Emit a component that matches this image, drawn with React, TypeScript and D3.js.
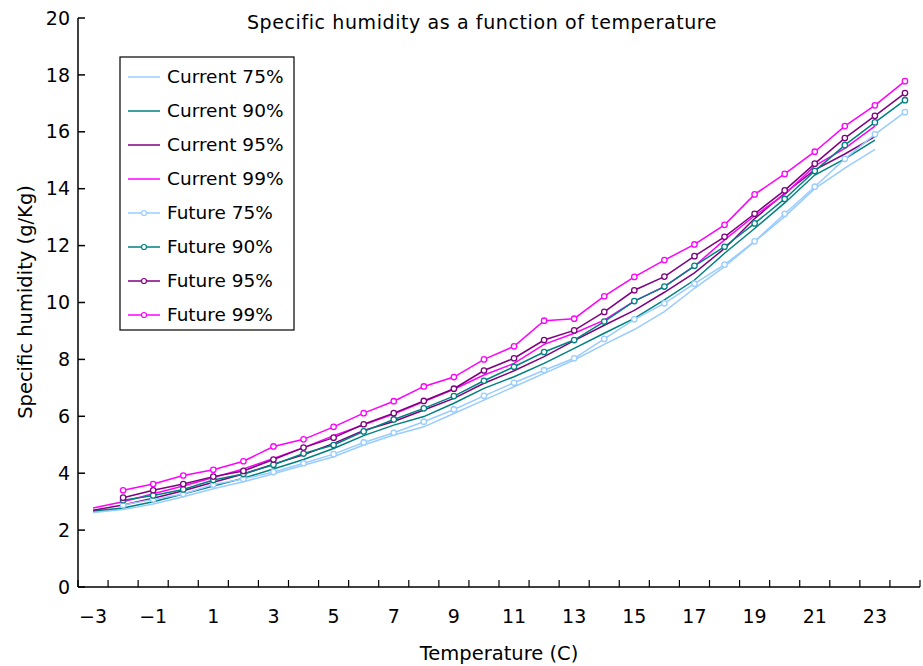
import React from "react";
import * as d3 from "d3";

// Temperature categories (°C)
const temps = [-3, -2, -1, 0, 1, 2, 3, 4, 5, 6, 7, 8, 9, 10, 11, 12, 13, 14, 15, 16, 17, 18, 19, 20, 21, 22, 23, 24];
const tickTemps = [-3, -1, 1, 3, 5, 7, 9, 11, 13, 15, 17, 19, 21, 23];
const yTicks = [0, 2, 4, 6, 8, 10, 12, 14, 16, 18, 20];

// Current climate: -3 .. 23
const current75 = [2.62, 2.72, 2.92, 3.17, 3.45, 3.7, 3.98, 4.28, 4.58, 4.99, 5.34, 5.63, 6.1, 6.57, 7.04, 7.51, 7.98, 8.53, 9.05, 9.68, 10.5, 11.26, 12.14, 13.02, 14.0, 14.72, 15.38];
const current90 = [2.67, 2.78, 3.0, 3.27, 3.55, 3.82, 4.15, 4.48, 4.87, 5.32, 5.69, 5.99, 6.46, 6.98, 7.39, 7.86, 8.39, 8.92, 9.44, 10.09, 10.79, 11.73, 12.6, 13.5, 14.48, 15.05, 15.71];
const current95 = [2.7, 2.88, 3.12, 3.38, 3.68, 3.97, 4.32, 4.65, 5.05, 5.5, 5.82, 6.22, 6.63, 7.16, 7.6, 8.1, 8.66, 9.2, 9.72, 10.36, 11.04, 11.9, 12.95, 13.84, 14.66, 15.22, 15.83];
const current99 = [2.78, 3.0, 3.28, 3.55, 3.85, 4.15, 4.52, 4.9, 5.32, 5.7, 6.08, 6.52, 6.95, 7.45, 7.86, 8.53, 8.92, 9.38, 10.05, 10.56, 11.28, 12.2, 13.05, 13.8, 14.8, 15.42, 16.2];

// Future climate: -2 .. 24
const future75 = [2.88, 3.08, 3.27, 3.6, 3.8, 4.04, 4.35, 4.67, 5.08, 5.42, 5.81, 6.24, 6.72, 7.18, 7.62, 8.04, 8.72, 9.41, 9.97, 10.66, 11.33, 12.15, 13.12, 14.07, 15.05, 15.91, 16.69];
const future90 = [3.05, 3.22, 3.43, 3.76, 3.97, 4.3, 4.69, 4.99, 5.47, 5.89, 6.28, 6.71, 7.25, 7.74, 8.26, 8.68, 9.33, 10.05, 10.56, 11.29, 11.96, 12.78, 13.64, 14.62, 15.53, 16.33, 17.11];
const future95 = [3.14, 3.4, 3.62, 3.88, 4.08, 4.48, 4.9, 5.25, 5.72, 6.11, 6.54, 6.97, 7.61, 8.04, 8.68, 9.02, 9.67, 10.43, 10.91, 11.63, 12.31, 13.12, 13.94, 14.88, 15.78, 16.56, 17.36];
const future99 = [3.4, 3.62, 3.92, 4.12, 4.42, 4.94, 5.19, 5.63, 6.11, 6.53, 7.05, 7.38, 8.0, 8.46, 9.36, 9.43, 10.22, 10.9, 11.49, 12.04, 12.73, 13.8, 14.52, 15.3, 16.2, 16.93, 17.78];

const currentTemps = temps.slice(0, 27);
const futureTemps = temps.slice(1);

const LIGHT = "#99CCFF";
const TEAL = "#008080";
const PURPLE = "#800080";
const MAGENTA = "#FF00FF";

type Series = { name: string; color: string; xs: number[]; ys: number[]; marker: boolean };

const series: Series[] = [
  { name: "Current 75%", color: LIGHT, xs: currentTemps, ys: current75, marker: false },
  { name: "Current 90%", color: TEAL, xs: currentTemps, ys: current90, marker: false },
  { name: "Current 95%", color: PURPLE, xs: currentTemps, ys: current95, marker: false },
  { name: "Current 99%", color: MAGENTA, xs: currentTemps, ys: current99, marker: false },
  { name: "Future 75%", color: LIGHT, xs: futureTemps, ys: future75, marker: true },
  { name: "Future 90%", color: TEAL, xs: futureTemps, ys: future90, marker: true },
  { name: "Future 95%", color: PURPLE, xs: futureTemps, ys: future95, marker: true },
  { name: "Future 99%", color: MAGENTA, xs: futureTemps, ys: future99, marker: true },
];

const W = 923;
const H = 666;
const left = 78;
const right = 920;
const top = 18;
const bottom = 587;
const FONT = "'DejaVu Sans', 'Noto Sans', sans-serif";

export default function App() {
  const x = d3.scaleBand<number>().domain(temps).range([left, right]).padding(0);
  const cx = (t: number) => (x(t) as number) + x.bandwidth() / 2;
  const y = d3.scaleLinear().domain([0, 20]).range([bottom, top]);

  const boundaries = d3.range(temps.length + 1).map((i) => left + i * x.bandwidth());

  const legendX = 120;
  const legendY = 57;
  const legendW = 174;
  const legendH = 273;
  const rowStart = 77;
  const rowGap = 34;

  return (
    <svg
      width={W}
      height={H}
      style={{ position: "absolute", left: 0, top: 0, background: "#fff" }}
      fontFamily={FONT}
    >
      <rect x={0} y={0} width={W} height={H} fill="#fff" />
      {/* title */}
      <text x={482} y={22} dy="0.35em" textAnchor="middle" fontSize={19} letterSpacing={0.6} fill="#000">
        Specific humidity as a function of temperature
      </text>

      {/* y axis */}
      <line x1={left} x2={left} y1={top} y2={bottom} stroke="#000" strokeWidth={1.5} />
      {yTicks.map((v) => (
        <g key={v}>
          <line x1={left} x2={left + 7} y1={y(v)} y2={y(v)} stroke="#000" strokeWidth={1.5} />
          <text x={70} y={y(v)} dy="0.35em" textAnchor="end" fontSize={19} fill="#000">
            {v}
          </text>
        </g>
      ))}

      {/* x axis */}
      <line x1={left} x2={right} y1={bottom} y2={bottom} stroke="#000" strokeWidth={1.5} />
      {boundaries.map((bx, i) => (
        <line key={i} x1={bx} x2={bx} y1={bottom} y2={bottom - 7} stroke="#000" strokeWidth={1.2} />
      ))}
      {tickTemps.map((t) => (
        <text key={t} x={cx(t)} y={616} dy="0.35em" textAnchor="middle" fontSize={19} fill="#000">
          {t < 0 ? "\u2212" + Math.abs(t) : String(t)}
        </text>
      ))}

      {/* axis titles */}
      <text x={499} y={653} dy="0.35em" textAnchor="middle" fontSize={19.5} fill="#000">
        Temperature (C)
      </text>
      <text
        transform={`translate(25,302) rotate(-90)`}
        dy="0.35em"
        textAnchor="middle"
        fontSize={19.5}
        fill="#000"
      >
        Specific humidity (g/Kg)
      </text>

      {/* series */}
      {series.map((s) => {
        const pts = s.xs.map((t, i) => [cx(t), y(s.ys[i])] as [number, number]);
        const path = d3.line()(pts) ?? "";
        return (
          <g key={s.name}>
            <path d={path} fill="none" stroke={s.color} strokeWidth={1.5} />
            {s.marker &&
              pts.map((p, i) => (
                <circle key={i} cx={p[0]} cy={p[1]} r={2.7} fill="#fff" stroke={s.color} strokeWidth={1.3} />
              ))}
          </g>
        );
      })}

      {/* legend */}
      <rect x={legendX} y={legendY} width={legendW} height={legendH} fill="#fff" stroke="#000" strokeWidth={1.2} />
      {series.map((s, i) => {
        const ry = rowStart + i * rowGap;
        return (
          <g key={s.name}>
            <line x1={128} x2={160} y1={ry} y2={ry} stroke={s.color} strokeWidth={1.5} />
            {s.marker && <circle cx={144} cy={ry} r={2.5} fill="#fff" stroke={s.color} strokeWidth={1.2} />}
            <text x={167} y={ry} dy="0.35em" fontSize={18.5} fill="#000">
              {s.name}
            </text>
          </g>
        );
      })}
    </svg>
  );
}
